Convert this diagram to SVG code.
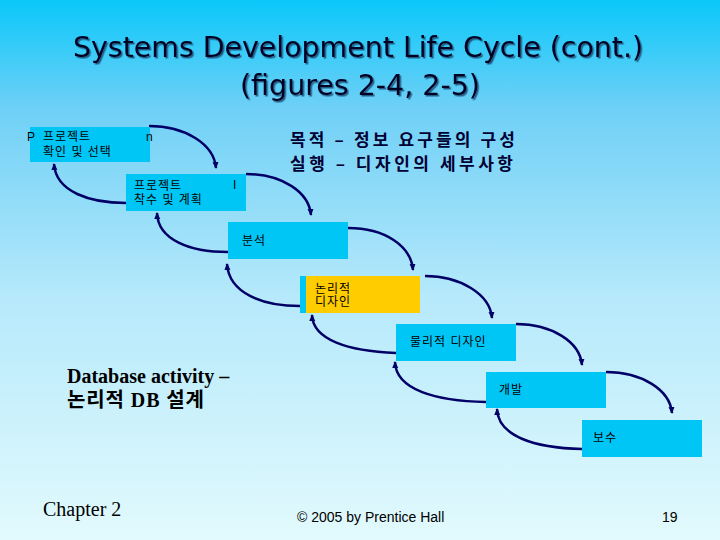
<svg xmlns="http://www.w3.org/2000/svg" width="720" height="540" viewBox="0 0 720 540">
<defs>
<linearGradient id="bg" x1="0" y1="0" x2="0" y2="1">
<stop offset="0" stop-color="#0ac8fa"/>
<stop offset="0.2" stop-color="#6fd0f6"/>
<stop offset="0.55" stop-color="#b6e9fb"/>
<stop offset="1" stop-color="#e2fafd"/>
</linearGradient>
<filter id="sh" x="-5%" y="-20%" width="110%" height="140%">
<feDropShadow dx="1.5" dy="1.5" stdDeviation="0.3" flood-color="#1f4f7a" flood-opacity="0.9"/>
</filter>
<marker id="ah" markerUnits="userSpaceOnUse" markerWidth="8" markerHeight="8" refX="6" refY="4" orient="auto">
<path d="M0,1 L7,4 L0,7 Z" fill="#000066"/>
</marker>
<style>
.box{fill:#00c6f6}
.yel{fill:#ffcc00}
.lbl{font-family:"Liberation Sans","Noto Sans CJK KR",sans-serif;font-size:12px;letter-spacing:1px;fill:#000000}
.con{fill:none;stroke:#000066;stroke-width:2.5;marker-end:url(#ah)}
.title{font-family:"DejaVu Sans Condensed","DejaVu Sans",sans-serif;font-size:29px;text-anchor:middle;fill:#000022}
.kr{font-family:"Noto Sans CJK KR",sans-serif;font-size:17px;font-weight:bold;fill:#000033}
.tm{font-family:"Liberation Serif","Noto Sans CJK KR",serif;font-size:20px;fill:#000000}
.ft{font-family:"Liberation Sans",sans-serif;font-size:14px;fill:#000000}
</style>
</defs>
<rect x="0" y="0" width="720" height="540" fill="url(#bg)"/>
<g id="title" filter="url(#sh)">
<text class="title" x="358" y="57" textLength="570" lengthAdjust="spacingAndGlyphs">Systems Development Life Cycle  (cont.)</text>
<text class="title" x="360" y="95" textLength="240" lengthAdjust="spacingAndGlyphs">(figures 2-4, 2-5)</text>
</g>
<g id="note">
<text class="kr" x="290" y="146" textLength="225" lengthAdjust="spacing">목적 – 정보 요구들의 구성</text>
<text class="kr" x="290" y="170" textLength="223" lengthAdjust="spacing">실행 – 디자인의 세부사항</text>
</g>
<g id="connectors">
<path class="con" d="M149,126 C185,126 214,144 216,168"/>
<path class="con" d="M246,174 C282,174 309,192 311,215"/>
<path class="con" d="M348,228 C385,228 411,246 413,270"/>
<path class="con" d="M425,276 C460,276 490,294 492,318"/>
<path class="con" d="M516,324 C552,324 580,342 582,365"/>
<path class="con" d="M606,372 C642,372 670,390 672,413"/>
<path class="con" d="M126,203 C90,203 56,192 54,164"/>
<path class="con" d="M228,252 C190,252 158,240 157,213"/>
<path class="con" d="M300,306 C262,306 229,293 227,264"/>
<path class="con" d="M396,353 C348,351 313,340 312,315"/>
<path class="con" d="M486,402 C436,401 396,390 395,362"/>
<path class="con" d="M582,449 C534,448 498,436 497,409"/>
</g>
<g id="n1">
<rect class="box" x="30" y="127" width="120" height="35"/>
<text class="lbl" x="27" y="141" font-size="14" letter-spacing="0">P</text>
<text class="lbl" x="43" y="141">프로젝트</text>
<text class="lbl" x="146" y="141" font-size="14" letter-spacing="0">n</text>
<text class="lbl" x="43" y="156">확인 및 선택</text>
</g>
<g id="n2">
<rect class="box" x="126" y="174" width="120" height="37"/>
<text class="lbl" x="134" y="190">프로젝트</text>
<text class="lbl" x="233" y="189" letter-spacing="0">I</text>
<text class="lbl" x="134" y="204">착수 및 계획</text>
</g>
<g id="n3">
<rect class="box" x="228" y="222" width="120" height="37"/>
<text class="lbl" x="242" y="245">분석</text>
</g>
<g id="n4">
<rect class="box" x="300" y="276" width="8" height="37"/>
<rect class="yel" x="306" y="276" width="114" height="37"/>
<text class="lbl" x="315" y="293">논리적</text>
<text class="lbl" x="315" y="306">디자인</text>
</g>
<g id="n5">
<rect class="box" x="396" y="324" width="120" height="37"/>
<text class="lbl" x="410" y="346">물리적 디자인</text>
</g>
<g id="n6">
<rect class="box" x="486" y="372" width="120" height="36"/>
<text class="lbl" x="499" y="394">개발</text>
</g>
<g id="n7">
<rect class="box" x="582" y="420" width="120" height="37"/>
<text class="lbl" x="593" y="442">보수</text>
</g>
<g id="dbnote">
<text class="tm" x="67" y="383" font-weight="bold">Database activity –</text>
<text class="tm" x="67" y="407" font-weight="bold" textLength="137" lengthAdjust="spacing">논리적 DB 설계</text>
</g>
<g id="footer">
<text class="tm" x="43" y="516">Chapter 2</text>
<text class="ft" x="297" y="522">© 2005 by Prentice Hall</text>
<text class="ft" x="662" y="522">19</text>
</g>
</svg>
